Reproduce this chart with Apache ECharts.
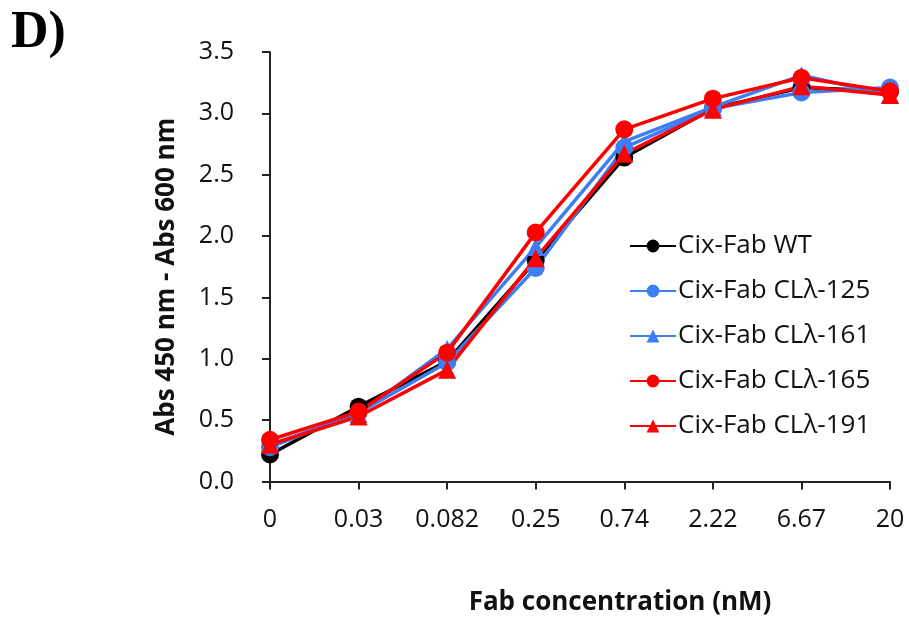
<!DOCTYPE html>
<html>
<head>
<meta charset="utf-8">
<script src="https://cdn.jsdelivr.net/npm/echarts@6/dist/echarts.min.js"></script>
<style>
  html, body { margin: 0; padding: 0; background: #fff; }
  #chart { width: 909px; height: 622px; }
</style>
</head>
<body>
<div id="chart"></div>
<script>
// Fab concentrations (nM) on the category axis
const concentrations = ['0', '0.03', '0.082', '0.25', '0.74', '2.22', '6.67', '20'];

// Absorbance (450 nm - 600 nm) per construct
const fabWT    = [0.22, 0.61, 0.98, 1.80, 2.64, 3.04, 3.21, 3.18];
const fabCL125 = [0.28, 0.56, 0.97, 1.74, 2.72, 3.04, 3.17, 3.21];
const fabCL161 = [0.30, 0.55, 1.08, 1.91, 2.77, 3.05, 3.31, 3.15];
const fabCL165 = [0.34, 0.57, 1.05, 2.03, 2.87, 3.12, 3.29, 3.18];
const fabCL191 = [0.30, 0.53, 0.91, 1.82, 2.67, 3.03, 3.22, 3.15];

const seriesNames = ['Cix-Fab WT', 'Cix-Fab CLλ-125', 'Cix-Fab CLλ-161', 'Cix-Fab CLλ-165', 'Cix-Fab CLλ-191'];

const BLACK = '#000000';
const BLUE = '#3d7ef5';
const RED = '#ff0000';
const FONT = 'Open Sans';

function makeSeries(name, data, color, symbol) {
  return {
    name: name,
    type: 'line',
    data: data,
    symbol: symbol,
    symbolSize: 18,
    showAllSymbol: true,
    lineStyle: { color: color, width: 3.5 },
    itemStyle: { color: color, borderWidth: 0 },
    emphasis: { disabled: true },
    animation: false
  };
}

const chart = echarts.init(document.getElementById('chart'), null, { renderer: 'canvas' });

chart.setOption({
  backgroundColor: '#ffffff',
  animation: false,
  grid: { left: 270, right: 19, top: 52, bottom: 140.5, containLabel: false },
  graphic: [{
    type: 'text',
    left: 11,
    top: 8,
    style: {
      text: 'D)',
      font: 'bold 52px "Liberation Serif", "Times New Roman", serif',
      fill: '#000'
    }
  }],
  legend: {
    orient: 'vertical',
    left: 624,
    top: 228,
    itemWidth: 46,
    itemHeight: 16,
    itemGap: 19,
    data: seriesNames,
    textStyle: { fontFamily: FONT, fontSize: 26, color: '#111', lineHeight: 26, padding: [0, 0, 0, -3] }
  },
  xAxis: {
    type: 'category',
    data: concentrations,
    boundaryGap: false,
    name: 'Fab concentration (nM)',
    nameLocation: 'middle',
    nameGap: 108,
    nameTextStyle: { fontFamily: FONT, fontSize: 26, fontWeight: 'bold', color: '#111', padding: [0, 0, 0, 80] },
    axisLine: { lineStyle: { color: '#222', width: 2 } },
    axisTick: { show: true, inside: false, length: 8, lineStyle: { color: '#222', width: 2 } },
    axisLabel: { fontFamily: FONT, fontSize: 25, color: '#111', margin: 26, interval: 0 },
    splitLine: { show: false }
  },
  yAxis: {
    type: 'value',
    min: 0,
    max: 3.5,
    interval: 0.5,
    name: 'Abs 450 nm - Abs 600 nm',
    nameLocation: 'middle',
    nameGap: 90,
    nameTextStyle: { fontFamily: FONT, fontSize: 26, fontWeight: 'bold', color: '#111', padding: [0, 20, 0, 0] },
    axisLine: { show: true, lineStyle: { color: '#222', width: 2 } },
    axisTick: { show: true, inside: false, length: 8, lineStyle: { color: '#222', width: 2 } },
    axisLabel: {
      fontFamily: FONT, fontSize: 25, color: '#111', margin: 36,
      formatter: v => v.toFixed(1)
    },
    splitLine: { show: false }
  },
  series: [
    makeSeries(seriesNames[0], fabWT, BLACK, 'circle'),
    makeSeries(seriesNames[1], fabCL125, BLUE, 'circle'),
    makeSeries(seriesNames[2], fabCL161, BLUE, 'triangle'),
    makeSeries(seriesNames[3], fabCL165, RED, 'circle'),
    makeSeries(seriesNames[4], fabCL191, RED, 'triangle')
  ]
});
</script>
</body>
</html>
